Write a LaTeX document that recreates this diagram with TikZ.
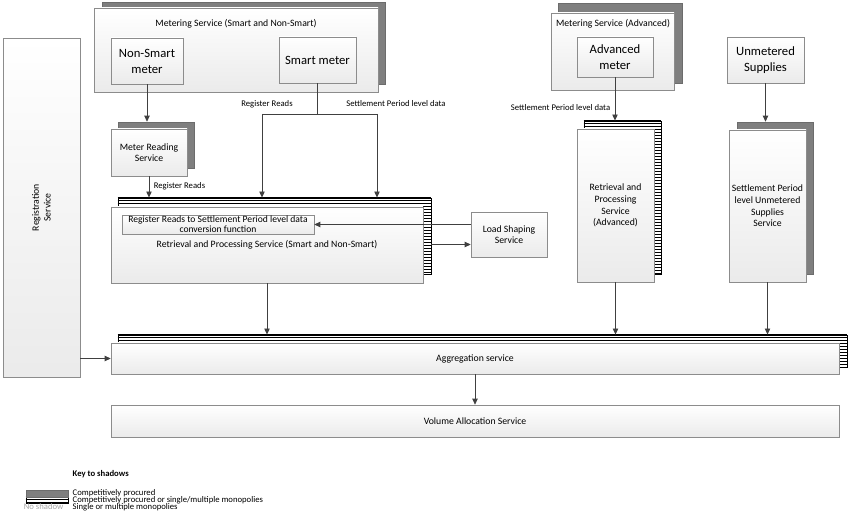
\documentclass[tikz,border=0pt]{standalone}
\usepackage{fontspec}
\setmainfont{Carlito}
\usetikzlibrary{arrows.meta,positioning}
\definecolor{shadowgray}{HTML}{7F7F7F}
\definecolor{boxline}{HTML}{8C8C8C}
\definecolor{linkgray}{HTML}{404040}
\newcommand{\smalltxt}{\fontsize{6.5}{8.7}\selectfont}
\newcommand{\boxtxt}{\fontsize{7.3}{8.75}\selectfont}
\newcommand{\convtxt}{\fontsize{7.2}{7.75}\selectfont}
\newcommand{\bigtxt}{\fontsize{9.5}{12}\selectfont}

\begin{document}
\begin{tikzpicture}[x=0.75pt, y=-0.75pt]
  \tikzset{sz/.style 2 args={minimum width=#1*0.75pt, minimum height=#2*0.75pt}}
  \tikzstyle{box} = [draw=boxline, top color=white, bottom color=black!8, inner sep=1pt, align=center]
  \tikzstyle{graysh} = [fill=shadowgray, draw=shadowgray!85!black, inner sep=0pt]
  \tikzstyle{stripesh} = [draw=black, line width=0.6pt, fill=white, inner sep=0pt]
  \tikzstyle{link} = [-{Triangle[length=4.5pt, width=4pt]}, draw=linkgray, line width=0.6pt]
  \useasboundingbox (0,0) rectangle (850,523);

  % shadows
  \node[graysh, sz={283}{82}] (msShadow) at (243.5,43) {};
  \node[graysh, sz={76}{46}] (mrsShadow) at (156,145) {};
  \node[graysh, sz={124}{80}] (maShadow) at (620,43) {};
  \node[graysh, sz={76}{152}] (suShadow) at (775,198) {};
  \node[stripesh, sz={313}{76}] (rpsShadow) at (274.5,236) {};
  \node[stripesh, sz={77}{153}] (rpaShadow) at (622.5,197.5) {};
  \node[stripesh, sz={729}{32}] (aggShadow) at (482.5,351) {};
  \node[stripesh, sz={42}{6}] (keyStripe) at (47,500) {};
  \foreach \s in {rpsShadow, rpaShadow, aggShadow, keyStripe} {
    \begin{scope}
      \clip (\s.south west) rectangle (\s.north east);
      \foreach \k in {0,...,52}
        \draw[line width=1.1pt] ([yshift=-\k*2.25pt]\s.north west) -- ([yshift=-\k*2.25pt]\s.north east);
    \end{scope}
  }

  % metering service (smart and non-smart)
  \node[box, sz={284}{84}] (ms) at (236,50) {};
  \node[font=\boxtxt] (msLabel) at (236,24) {Metering Service (Smart and Non-Smart)};
  \node[box, font=\bigtxt, sz={72}{46}] (nsm) at (147,61) {Non-Smart\\meter};
  \node[box, font=\bigtxt, sz={77}{46}] (sm) at (317.5,60) {Smart meter};
  \node[box, font=\boxtxt, sz={76}{47}] (mrs) at (149,152.5) {Meter Reading\\Service};

  % retrieval and processing (smart and non-smart)
  \node[box, font=\boxtxt, sz={312}{76}] (rps) at (267,245) {Retrieval and Processing Service (Smart and Non-Smart)};
  \node[box, font=\convtxt, sz={192}{19}, inner sep=0pt] (conv) at (218,224.5) {Register Reads to Settlement Period level data\\conversion function};
  \node[box, font=\boxtxt, sz={76}{45}] (lss) at (509,234.5) {Load Shaping\\Service};

  % advanced
  \node[box, sz={123}{77}] (ma) at (612.5,51.5) {};
  \node[font=\boxtxt] (maLabel) at (613,24) {Metering Service (Advanced)};
  \node[box, font=\bigtxt, sz={76}{40}] (am) at (615,57) {Advanced\\meter};
  \node[box, font=\boxtxt, sz={77}{153}] (rpa) at (615.5,205.5) {Retrieval and\\Processing\\Service\\(Advanced)};

  % unmetered
  \node[box, font=\bigtxt, sz={77}{46}] (ums) at (765.5,60) {Unmetered\\Supplies};
  \node[box, font=\boxtxt, sz={77}{152}] (sus) at (767.5,206) {Settlement Period\\level Unmetered\\Supplies\\Service};

  % registration, aggregation, volume allocation
  \node[box, sz={77}{339}] (reg) at (41.5,207.5) {};
  \node[font=\boxtxt, rotate=90, align=center] (regLabel) at (reg.center) {Registration\\Service};
  \node[box, font=\boxtxt, sz={728}{31}] (agg) at (475,358.5) {Aggregation service};
  \node[box, font=\boxtxt, sz={728}{32}] (vas) at (475,421) {Volume Allocation Service};

  % connectors
  \draw[link] (nsm) -- (nsm |- mrsShadow.north);
  \draw[link] (mrs) -- node[right, pos=0.45, font=\smalltxt] (mrsReads) {Register Reads} (mrs |- rpsShadow.north);
  \coordinate (smSplit) at (sm.south |- 0,114);
  \coordinate (smLeft) at (262,114);
  \coordinate (smRight) at (377,114);
  \draw[draw=linkgray, line width=0.6pt] (sm) -- (smSplit) (smLeft) -- (smRight);
  \draw[link] (smLeft) -- (smLeft |- rpsShadow.north);
  \draw[link] (smRight) -- (smRight |- rpsShadow.north);
  \node[font=\smalltxt] (smReads) at (267,104) {Register Reads};
  \node[font=\smalltxt] (smSettle) at (396,104) {Settlement Period level data};
  \coordinate (lsOut) at (lss.west |- conv.east);
  \coordinate (lsIn) at ([yshift=-7.5pt]lss.west);
  \draw[link] (lsOut) -- (conv.east);
  \draw[link] (lsIn -| rpsShadow.east) -- (lsIn);
  \draw[link] (am) -- node[left, pos=0.7, font=\smalltxt] (amSettle) {Settlement Period level data} (am |- rpaShadow.north);
  \draw[link] (ums) -- (ums |- suShadow.north);
  \draw[link] (rps) -- (rps |- aggShadow.north);
  \draw[link] (rpa) -- (rpa |- aggShadow.north);
  \draw[link] (sus) -- (sus |- aggShadow.north);
  \draw[link] (reg.east |- agg.west) -- (agg.west);
  \draw[link] (agg) -- (vas);

  % key to shadows
  \node[font=\smalltxt\bfseries, anchor=west] (keyTitle) at (68,474) {Key to shadows};
  \node[graysh, sz={42}{7}] (keyGray) at (47,493.5) {};
  \node[font=\smalltxt, anchor=west] (keyGrayText) at (68,493) {Competitively procured};
  \node[font=\smalltxt, anchor=west] (keyStripeText) at (68,500) {Competitively procured or single/multiple monopolies};
  \node[font=\smalltxt, anchor=west] (keyNoneText) at (68,507) {Single or multiple monopolies};
  \node[font=\smalltxt, text=gray!70, anchor=east] (keyNone) at (68,507) {No shadow};
\end{tikzpicture}
\end{document}
